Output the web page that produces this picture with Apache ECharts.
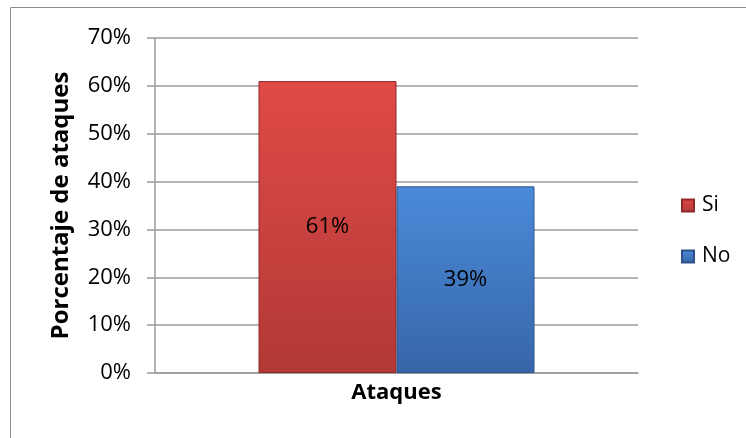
<!DOCTYPE html>
<html><head><meta charset="utf-8">
<script src="https://cdn.jsdelivr.net/npm/echarts@6/dist/echarts.min.js"></script>
<style>html,body{margin:0;padding:0;background:#fff}#c{width:746px;height:438px}</style>
</head><body><div id="c"></div>
<script>
const categories = ['Ataques'];
const seriesNames = ['Si', 'No'];
const siValues = [0.61];
const noValues = [0.39];
const yTicks = [0, 0.1, 0.2, 0.3, 0.4, 0.5, 0.6, 0.7];

const font = '"Open Sans", "Liberation Sans", sans-serif';
const chart = echarts.init(document.getElementById('c'));
function grad(top, bottom) {
  return new echarts.graphic.LinearGradient(0, 0, 0, 1, [{offset: 0, color: top}, {offset: 1, color: bottom}]);
}
chart.setOption({
  animation: false,
  backgroundColor: '#fff',
  graphic: [{type: 'rect', shape: {x: 10.5, y: 7.5, width: 800, height: 500}, style: {fill: 'none', stroke: '#8c8c8c', lineWidth: 1}, silent: true, z: -1}],
  grid: {left: 155, right: 108, top: 38, bottom: 65},
  legend: {
    orient: 'vertical', left: 681, top: 195, padding: 0, itemGap: 30, itemWidth: 12, itemHeight: 12,
    icon: 'rect',
    textStyle: {fontFamily: font, fontSize: 21, color: '#000', padding: [0, 0, 0, 3]},
    data: seriesNames
  },
  xAxis: {
    type: 'category', data: categories,
    axisLine: {lineStyle: {color: '#9a9a9a', width: 1.5}},
    axisTick: {show: false},
    axisLabel: {fontFamily: font, fontSize: 22, fontWeight: 'bold', color: '#000', margin: 9}
  },
  yAxis: {
    type: 'value', min: 0, max: 0.7, interval: 0.1,
    name: 'Porcentaje de ataques', nameLocation: 'middle', nameGap: 82, nameRotate: 90,
    nameTextStyle: {fontFamily: font, fontSize: 24, fontWeight: 'bold', color: '#000'},
    axisLine: {show: true, lineStyle: {color: '#9a9a9a', width: 1.5}},
    axisTick: {show: true, length: 8, lineStyle: {color: '#9a9a9a', width: 1.5}},
    splitLine: {lineStyle: {color: '#9a9a9a', width: 1.5}},
    axisLabel: {fontFamily: font, fontSize: 22, color: '#000', margin: 24,
      formatter: v => yTicks.some(t => Math.abs(t - v) < 1e-9) ? Math.round(v * 100) + '%' : ''}
  },
  series: [
    {name: 'Si', type: 'bar', data: siValues, barWidth: 138, barGap: '0%',
      itemStyle: {color: grad('#e04a47', '#b23936'), borderColor: '#8f2b29', borderWidth: 1},
      label: {show: true, position: 'inside', fontFamily: font, fontSize: 22, color: '#000',
        formatter: p => Math.round(p.value * 100) + '%'}},
    {name: 'No', type: 'bar', data: noValues, barWidth: 138,
      itemStyle: {color: grad('#4a8ad9', '#3766a8'), borderColor: '#2c5289', borderWidth: 1},
      label: {show: true, position: 'inside', fontFamily: font, fontSize: 22, color: '#000',
        formatter: p => Math.round(p.value * 100) + '%'}}
  ]
});
</script></body></html>
